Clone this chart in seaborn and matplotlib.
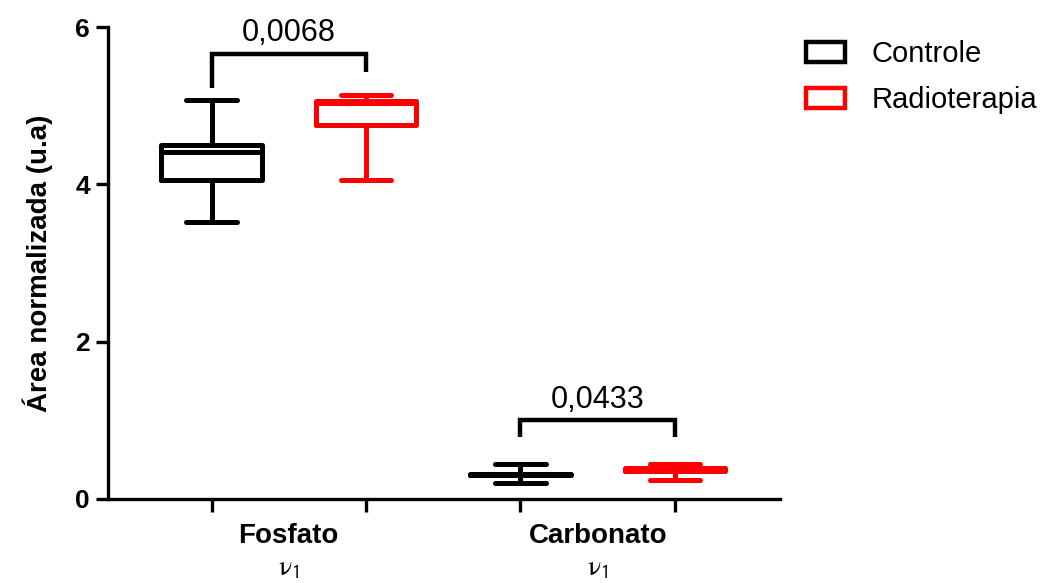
import numpy as np
import pandas as pd
import seaborn as sns
import matplotlib
matplotlib.use("Agg")
import matplotlib.pyplot as plt
from matplotlib.patches import Patch
from matplotlib.transforms import blended_transform_factory

# ---- data (five-number summaries: min, Q1, median, Q3, max)
categories = ["Fosfato", "Carbonato"]
groups = ["Controle", "Radioterapia"]
fosfato_controle = [3.52, 4.05, 4.41, 4.50, 5.07]
fosfato_radio = [4.05, 4.75, 5.03, 5.06, 5.14]
carbonato_controle = [0.20, 0.305, 0.31, 0.315, 0.44]
carbonato_radio = [0.24, 0.36, 0.38, 0.40, 0.44]
p_values = ["0,0068", "0,0433"]
bracket_y = [5.66, 1.00]
bracket_left_bottom = [5.22, 0.79]
bracket_right_bottom = [5.43, 0.79]
pvalue_y = [5.93, 1.26]
yticks = [0, 2, 4, 6]
ylabel = "Área normalizada (u.a)"
sublabel = r"$\mathrm{\nu}_{\mathsf{1}}$"

rows = []
for cat, series in zip(categories, [(fosfato_controle, fosfato_radio),
                                    (carbonato_controle, carbonato_radio)]):
    for grp, vals in zip(groups, series):
        for v in vals:
            rows.append({"tipo": cat, "grupo": grp, "valor": v})
df = pd.DataFrame(rows)

sns.set_style("white")
plt.rcParams["font.family"] = ["Liberation Sans", "DejaVu Sans"]
plt.rcParams["text.color"] = "black"
plt.rcParams["axes.labelcolor"] = "black"
plt.rcParams["xtick.color"] = "black"
plt.rcParams["ytick.color"] = "black"

palette = {"Controle": "#000000", "Radioterapia": "#FF0000"}

fig = plt.figure(figsize=(10.6, 5.83), dpi=100)
ax = fig.add_axes([108 / 1060, 1 - 499 / 583, (780 - 108) / 1060, (499 - 27) / 583])

sns.boxplot(data=df, x="tipo", y="valor", hue="grupo", order=categories,
            hue_order=groups, palette=palette, fill=False, width=1.0, gap=0.35,
            whis=(0, 100), showfliers=False, linewidth=3.6, legend=False, ax=ax)

ax.set_xlim(-0.585, 1.59)
ax.set_ylim(0, 6)

offs = 0.25
box_centers = [i + d for i in range(len(categories)) for d in (-offs, offs)]
ax.set_xticks(box_centers)
ax.set_xticklabels([""] * len(box_centers))
ax.set_xticks(range(len(categories)), minor=True)
ax.set_xticklabels(categories, minor=True, fontsize=20, fontweight="bold")
ax.tick_params(axis="x", which="minor", bottom=True, length=0, pad=17)
ax.tick_params(axis="x", which="major", bottom=True, length=9, width=2.4,
               direction="out", color="black")
ax.tick_params(axis="y", which="major", left=True, length=9, width=2.4,
               direction="out", color="black", pad=4)
ax.set_yticks(yticks)
ax.set_yticklabels([str(t) for t in yticks], fontsize=19, fontweight="heavy")
ax.set_xlabel("")
ax.set_ylabel(ylabel, fontsize=20, fontweight="bold", labelpad=16)

for side in ["top", "right"]:
    ax.spines[side].set_visible(False)
for side in ["left", "bottom"]:
    ax.spines[side].set_linewidth(2.4)
    ax.spines[side].set_color("black")

trans = blended_transform_factory(ax.transData, ax.transAxes)
for i in range(len(categories)):
    ax.text(i, -0.148, sublabel, transform=trans, ha="center", va="center",
            fontsize=20, math_fontfamily="stix")

# significance brackets
for i in range(len(categories)):
    xl, xr = i - offs, i + offs
    ax.plot([xl, xl, xr, xr],
            [bracket_left_bottom[i], bracket_y[i], bracket_y[i], bracket_right_bottom[i]],
            color="black", lw=3.2, solid_joinstyle="miter", solid_capstyle="butt",
            clip_on=False)
    ax.text(i, pvalue_y[i], p_values[i], ha="center", va="center", fontsize=22)

handles = [Patch(facecolor="white", edgecolor=palette[g], linewidth=3.2, label=g)
           for g in groups]
fig.legend(handles=handles, loc="upper left", bbox_to_anchor=(806 / 1060, 1 - 40 / 583),
           frameon=False, fontsize=21, handlelength=1.35, handleheight=0.7,
           handletextpad=0.9, labelspacing=0.62, borderpad=0, borderaxespad=0)

fig.savefig("out.png", dpi=100)
